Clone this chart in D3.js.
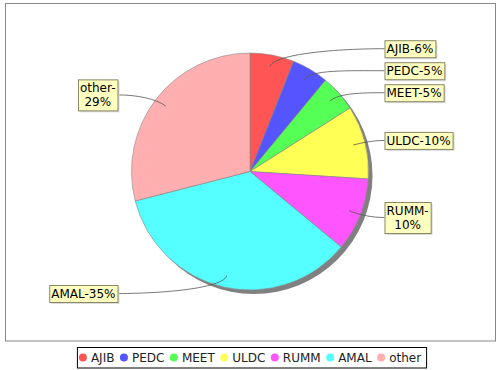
<!DOCTYPE html>
<html>
<head>
<meta charset="utf-8">
<script src="https://cdn.jsdelivr.net/npm/d3@7"></script>
<style>
  body { margin: 0; background: #fff; }
  svg text { font-family: "DejaVu Sans", sans-serif; }
</style>
</head>
<body>
<svg id="chart" width="500" height="370"></svg>
<script>
// slice data (percent of total)
var categories = ["AJIB", "PEDC", "MEET", "ULDC", "RUMM", "AMAL", "other"];
var shares = [6, 5, 5, 10, 10, 35, 29];
var labelLines = [["AJIB-6%"], ["PEDC-5%"], ["MEET-5%"], ["ULDC-10%"], ["RUMM-", "10%"], ["AMAL-35%"], ["other-", "29%"]];
var colors = ["#ff5555", "#5555ff", "#55ff55", "#ffff55", "#ff55ff", "#55ffff", "#ffafaf"];

var svg = d3.select("#chart"),
    cx = 250, cy = 171.5, R = 118.5;

// plot area border
svg.append("rect")
    .attr("x", 5.5).attr("y", 3.5).attr("width", 490).attr("height", 337.5)
    .attr("fill", "#fff").attr("stroke", "#888");

var color = d3.scaleOrdinal().domain(categories).range(colors);

var pie = d3.pie().sort(null).value(function(d) { return d.v; });
var arcs = pie(categories.map(function(c, i) { return {name: c, v: shares[i], lines: labelLines[i]}; }));

var arc = d3.arc().innerRadius(0).outerRadius(R);

var g = svg.append("g").attr("transform", "translate(" + cx + "," + cy + ")");

// shadow
g.append("circle").attr("cx", 4).attr("cy", 4).attr("r", R).attr("fill", "#808080");

g.selectAll("path.slice")
    .data(arcs)
  .enter().append("path")
    .attr("class", "slice")
    .attr("d", arc)
    .attr("fill", function(d) { return color(d.data.name); })
    .attr("stroke", "#888")
    .attr("stroke-width", 0.6);

// labels: place by mid-angle then push apart
var Rl = 125, lineH = 14, pad = 3, gap = 5;
var labels = arcs.map(function(d) {
  var a = (d.startAngle + d.endAngle) / 2;
  var h = d.data.lines.length * lineH + pad;
  return {d: d, a: a, right: Math.sin(a) >= 0, y: -Math.cos(a) * Rl, h: h};
});

function spread(list) {
  list.sort(function(a, b) { return a.y - b.y; });
  for (var i = 1; i < list.length; i++) {
    var p = list[i - 1], c = list[i];
    var minY = p.y + p.h / 2 + gap + c.h / 2;
    if (c.y < minY) c.y = minY;
  }
}
spread(labels.filter(function(l) { return l.right; }));
spread(labels.filter(function(l) { return !l.right; }));

var links = g.append("g");
var lg = g.append("g");

labels.forEach(function(l) {
  var node = lg.append("g");
  var t = node.append("text").attr("font-size", 12).attr("fill", "#000").attr("text-anchor", "middle");
  l.d.data.lines.forEach(function(s, i) {
    t.append("tspan").attr("x", 0).attr("y", (i - (l.d.data.lines.length - 1) / 2) * lineH + 4.3).text(s);
  });
  var w = 0;
  t.selectAll("tspan").each(function() { w = Math.max(w, this.getComputedTextLength()); });
  var bw = w + 4;
  var bx = l.right ? R + 16 : -R - 14 - bw;
  node.attr("transform", "translate(" + (bx + bw / 2) + "," + l.y + ")");
  node.insert("rect", "text")
    .attr("x", -bw / 2 + 2).attr("y", -l.h / 2 + 2).attr("width", bw).attr("height", l.h)
    .attr("fill", "#dcdcdc");
  node.insert("rect", "text")
    .attr("x", -bw / 2 + 0.5).attr("y", -l.h / 2 + 0.5).attr("width", bw).attr("height", l.h)
    .attr("fill", "#ffffc0").attr("stroke", "#888866");

  // link line
  var ax = Math.sin(l.a) * R * 0.9, ay = -Math.cos(l.a) * R * 0.9;
  var ex = Math.sin(l.a) * R, ey = -Math.cos(l.a) * R;
  var tx = l.right ? bx : bx + bw, ty = l.y;
  var p = d3.path();
  p.moveTo(ax, ay);
  p.bezierCurveTo(ex, ey, (ex + tx) / 2, ty, tx, ty);
  links.append("path").attr("d", p.toString())
    .attr("fill", "none").attr("stroke", "#555").attr("stroke-width", 0.8);
});

// legend
var legBox = svg.append("rect");
var leg = svg.append("g");
var items = leg.selectAll("g.item").data(categories).enter().append("g").attr("class", "item");
items.append("circle").attr("r", 4).attr("fill", function(d) { return color(d); });
items.append("text").attr("x", 8).attr("y", 4.3).attr("font-size", 12).attr("fill", "#222").text(function(d) { return d; });
var xpos = 0, itemGap = 9.5;
items.each(function() {
  var tw = d3.select(this).select("text").node().getComputedTextLength();
  d3.select(this).attr("transform", "translate(" + xpos + ",0)");
  xpos += 8 + tw + itemGap;
});
var span = xpos - itemGap;     // first circle centre to end of last text
var lx = 250 - (span + 4) / 2; // first circle centre sits 4px in
leg.attr("transform", "translate(" + (lx + 4) + ",357.5)");
legBox
    .attr("x", lx - 1.5).attr("y", 347.5).attr("width", span + 11).attr("height", 20.5)
    .attr("fill", "#fff").attr("stroke", "#000");
</script>
</body>
</html>
